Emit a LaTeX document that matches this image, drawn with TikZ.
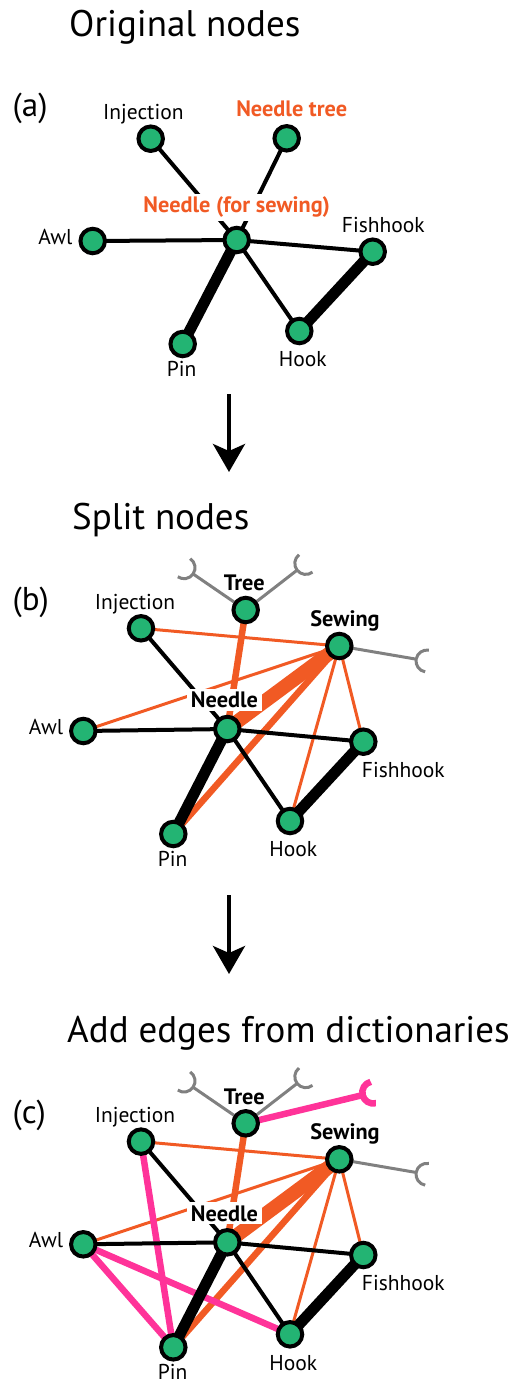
\documentclass[tikz,border=0pt]{standalone}
\usepackage{fontspec}
\setmainfont{PT Sans}
\usetikzlibrary{arrows.meta,calc}
\definecolor{nodegreen}{RGB}{35,180,115}
\definecolor{edgeorange}{RGB}{241,90,36}
\definecolor{edgepink}{RGB}{255,51,153}
\definecolor{stubgray}{RGB}{128,128,128}
\pgfdeclarelayer{background}
\pgfsetlayers{background,main}

% an open sense stub: a line from a node ending in a half circle cup
\newcommand\sensestub[3]{% #1 style, #2 node, #3 centre of the cup
  \draw[#1] let \p1=($(#3)-(#2.center)$), \n1={atan2(\y1,\x1)} in
    (#2.center) -- ($(#3)+(\n1+180:11pt)$)
    ($(#3)+(\n1+90:11pt)$) arc[start angle=\n1+90, delta angle=180, radius=11pt];}

\begin{document}
\begin{tikzpicture}[x=1pt,y=1pt,line cap=butt,
  vtx/.style={circle, draw=black, line width=4pt, fill=nodegreen, minimum size=24.5pt, inner sep=0pt},
  lab/.style={font=\fontsize{21.5}{24}\selectfont, inner sep=0pt, anchor=base},
  blab/.style={lab, font=\fontsize{22.3}{25}\selectfont\bfseries},
  olab/.style={blab, text=edgeorange},
  cutbox/.style={fill=white, inner xsep=5pt, inner ysep=3pt},
  title/.style={font=\fontsize{37}{42}\selectfont, inner sep=0pt, anchor=base west},
  panel/.style={font=\fontsize{33}{36}\selectfont, inner sep=0pt, anchor=base west},
  blk/.style={draw=black, line width=4pt},
  blkthick/.style={draw=black, line width=11pt},
  orthin/.style={draw=edgeorange, line width=3pt},
  ormid/.style={draw=edgeorange, line width=6.5pt},
  orthick/.style={draw=edgeorange, line width=14pt},
  pk/.style={draw=edgepink, line width=6.5pt},
  stub/.style={draw=stubgray, line width=3pt},
  pkstub/.style={draw=edgepink, line width=6.5pt},
  flow/.style={draw=black, line width=4pt, -{Stealth[length=28pt,width=32pt,inset=7pt]}},
]
\useasboundingbox (0,0) rectangle (519,-1385);

% ---------- titles and flow arrows ----------
\node[title] (t1) at (69,-36) {Original nodes};
\node[title] (t2) at (72,-529) {Split nodes};
\node[title] (t3) at (67,-1042.7) {Add edges from dictionaries};
\coordinate (f1s) at (229,-394);
\coordinate (f1e) at (229,-472);
\coordinate (f2s) at (229,-895);
\coordinate (f2e) at (229,-974);
\draw[flow] (f1s) -- (f1e);
\draw[flow] (f2s) -- (f2e);

% ---------- (a) original nodes ----------
\node[panel] (pa) at (12.5,-116.5) {(a)};
\node[vtx] (aInj) at (150.7,-138.7) {};
\node[vtx] (aTree) at (286.7,-138.3) {};
\node[vtx] (aNee) at (236.7,-240) {};
\node[vtx] (aAwl) at (92.7,-241) {};
\node[vtx] (aFish) at (372.7,-251.7) {};
\node[vtx] (aPin) at (182.7,-344) {};
\node[vtx] (aHook) at (299.3,-331) {};
\node[lab] (laInj) at (143.3,-119.3) {Injection};
\node[olab] (laTree) at (291.7,-116.7) {Needle tree};
\node[olab, cutbox] (laNee) at (236.7,-212.7) {Needle (for sewing)};
\node[lab, anchor=base east] (laAwl) at (72.7,-244.3) {Awl};
\node[lab] (laFish) at (383.3,-232.7) {Fishhook};
\node[lab] (laPin) at (181.7,-376.7) {Pin};
\node[lab] (laHook) at (302.7,-366.7) {Hook};

% ---------- (b) split nodes ----------
\node[panel] (pb) at (12.5,-610) {(b)};
\node[vtx] (bTree) at (245.7,-610) {};
\node[vtx] (bInj) at (141,-628.3) {};
\node[vtx] (bSew) at (339.3,-646) {};
\node[vtx] (bNee) at (227.3,-729) {};
\node[vtx] (bAwl) at (83.3,-731) {};
\node[vtx] (bFish) at (363.3,-741.7) {};
\node[vtx] (bHook) at (290,-821) {};
\node[vtx] (bPin) at (173.3,-834) {};
\coordinate (bCupL) at (184,-567.7);
\coordinate (bCupR) at (305.8,-563.4);
\coordinate (bCupS) at (427,-661);
\node[blab] (lbTree) at (244.3,-590.7) {Tree};
\node[lab] (lbInj) at (135,-609) {Injection};
\node[blab] (lbSew) at (345,-626.3) {Sewing};
\node[blab, cutbox, anchor=base west, inner xsep=4pt] (lbNee) at (186.7,-707.7) {Needle\hspace{7pt}};
\node[lab, anchor=base east] (lbAwl) at (63.3,-734.3) {Awl};
\node[lab] (lbFish) at (403.3,-777.3) {Fishhook};
\node[lab] (lbHook) at (293.3,-856.7) {Hook};
\node[lab] (lbPin) at (172.7,-866) {Pin};

% ---------- (c) dictionary edges added ----------
\node[panel] (pc) at (12.5,-1123.3) {(c)};
\node[vtx] (cTree) at (245.7,-1123.3) {};
\node[vtx] (cInj) at (141,-1141.6) {};
\node[vtx] (cSew) at (339.3,-1159.3) {};
\node[vtx] (cNee) at (227.3,-1242.3) {};
\node[vtx] (cAwl) at (83.3,-1244.3) {};
\node[vtx] (cFish) at (363.3,-1255) {};
\node[vtx] (cHook) at (290,-1334.3) {};
\node[vtx] (cPin) at (173.3,-1347.3) {};
\coordinate (cCupL) at (184,-1081);
\coordinate (cCupR) at (305.8,-1076.7);
\coordinate (cCupS) at (427,-1174.3);
\coordinate (cCupP) at (373.3,-1092.5);
\node[blab] (lcTree) at (244.3,-1104) {Tree};
\node[lab] (lcInj) at (135,-1122.3) {Injection};
\node[blab] (lcSew) at (345,-1139.6) {Sewing};
\node[blab, cutbox, anchor=base west, inner xsep=4pt] (lcNee) at (186.7,-1221) {Needle\hspace{7pt}};
\node[lab, anchor=base east] (lcAwl) at (63.3,-1247.6) {Awl};
\node[lab] (lcFish) at (403.3,-1290.6) {Fishhook};
\node[lab] (lcHook) at (293.3,-1370) {Hook};
\node[lab] (lcPin) at (172.7,-1379.3) {Pin};

\begin{pgfonlayer}{background}
  % (a)
  \draw[blk] (aInj.center) -- (aNee.center);
  \draw[blk] (aTree.center) -- (aNee.center);
  \draw[blk] (aAwl.center) -- (aNee.center);
  \draw[blk] (aNee.center) -- (aFish.center);
  \draw[blk] (aNee.center) -- (aHook.center);
  \draw[blkthick] (aNee.center) -- (aPin.center);
  \draw[blkthick] (aFish.center) -- (aHook.center);

  % (b)
  \sensestub{stub}{bTree}{bCupL}
  \sensestub{stub}{bTree}{bCupR}
  \sensestub{stub}{bSew}{bCupS}
  \draw[orthin] (bInj.center) -- (bSew.center);
  \draw[orthin] (bAwl.center) -- (bSew.center);
  \draw[orthin] (bSew.center) -- (bHook.center);
  \draw[orthin] (bSew.center) -- (bFish.center);
  \draw[ormid] (bTree.center) -- (bNee.center);
  \draw[ormid] (bSew.center) -- (bPin.center);
  \draw[orthick] (bSew.center) -- (bNee.center);
  \draw[blk] (bInj.center) -- (bNee.center);
  \draw[blk] (bAwl.center) -- (bNee.center);
  \draw[blk] (bNee.center) -- (bFish.center);
  \draw[blk] (bNee.center) -- (bHook.center);
  \draw[blkthick] (bNee.center) -- (bPin.center);
  \draw[blkthick] (bFish.center) -- (bHook.center);

  % (c)
  \sensestub{stub}{cTree}{cCupL}
  \sensestub{stub}{cTree}{cCupR}
  \sensestub{stub}{cSew}{cCupS}
  \draw[orthin] (cInj.center) -- (cSew.center);
  \draw[orthin] (cAwl.center) -- (cSew.center);
  \draw[orthin] (cSew.center) -- (cHook.center);
  \draw[orthin] (cSew.center) -- (cFish.center);
  \draw[ormid] (cTree.center) -- (cNee.center);
  \draw[ormid] (cSew.center) -- (cPin.center);
  \draw[orthick] (cSew.center) -- (cNee.center);
  \sensestub{pkstub}{cTree}{cCupP}
  \draw[pk] (cInj.center) -- (cPin.center);
  \draw[pk] (cAwl.center) -- (cPin.center);
  \draw[pk] (cAwl.center) -- (cHook.center);
  \draw[blk] (cInj.center) -- (cNee.center);
  \draw[blk] (cAwl.center) -- (cNee.center);
  \draw[blk] (cNee.center) -- (cFish.center);
  \draw[blk] (cNee.center) -- (cHook.center);
  \draw[blkthick] (cNee.center) -- (cPin.center);
  \draw[blkthick] (cFish.center) -- (cHook.center);
\end{pgfonlayer}
\end{tikzpicture}
\end{document}
